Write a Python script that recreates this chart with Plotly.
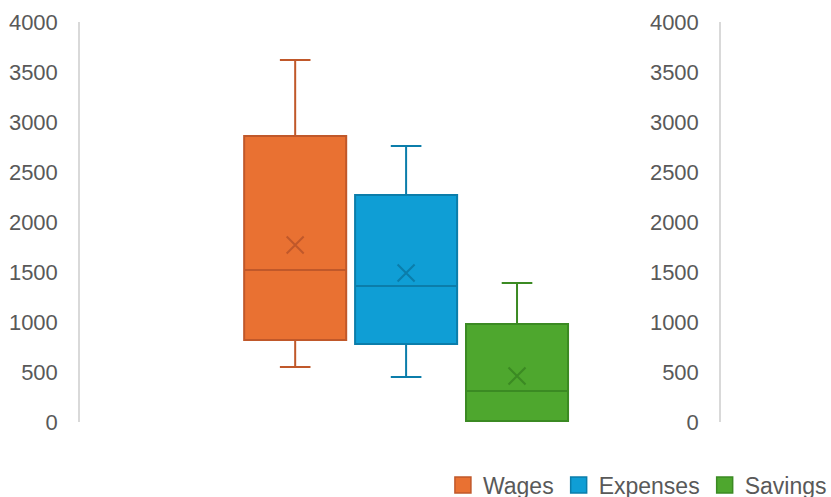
import plotly.graph_objects as go

# Data
series = ["Wages", "Expenses", "Savings"]
lower_whisker = [550, 450, 0]
q1 = [820, 780, 10]
median = [1520, 1360, 310]
q3 = [2860, 2270, 980]
upper_whisker = [3620, 2760, 1390]
means = [1770, 1490, 460]

fills = ["#E97132", "#0F9ED5", "#4EA72E"]
edges = ["#C0582A", "#0B7DAA", "#3B8A23"]

tick_vals = [0, 500, 1000, 1500, 2000, 2500, 3000, 3500, 4000]

fig = go.Figure()

for i, name in enumerate(series):
    fig.add_trace(go.Box(
        x=[name],
        q1=[q1[i]], median=[median[i]], q3=[q3[i]],
        lowerfence=[lower_whisker[i]], upperfence=[upper_whisker[i]],
        name=name,
        fillcolor=fills[i],
        line=dict(color=edges[i], width=2),
        whiskerwidth=0.3,
        boxpoints=False,
        showlegend=False,
        hoverinfo="skip",
    ))

# mean markers
fig.add_trace(go.Scatter(
    x=series, y=means, mode="markers",
    marker=dict(symbol="x-thin", size=17, line=dict(width=2, color=edges)),
    showlegend=False, hoverinfo="skip",
))

# legend entries with bigger square swatches
for i, name in enumerate(series):
    fig.add_trace(go.Scatter(
        x=[None], y=[None], mode="markers", name=name,
        marker=dict(symbol="square", size=19, color=fills[i],
                    line=dict(width=1.5, color=edges[i])),
    ))

axis_font = dict(family="Liberation Sans, Arial, sans-serif", size=22, color="#595959")
legend_font = dict(family="Liberation Sans, Arial, sans-serif", size=23, color="#595959")

fig.update_layout(
    width=831, height=497,
    margin=dict(l=80, r=111, t=22, b=75, autoexpand=False),
    paper_bgcolor="white", plot_bgcolor="white",
    boxmode="overlay", boxgap=0.08, boxgroupgap=0,
    showlegend=True,
    legend=dict(
        orientation="h", xref="container", yref="container",
        x=0.533, xanchor="left", y=0.024, yanchor="middle",
        font=legend_font, itemwidth=30, traceorder="normal",
    ),
    xaxis=dict(
        type="category", categoryorder="array", categoryarray=series,
        range=[-1.94, 3.83], showticklabels=False, showgrid=False,
        zeroline=False, showline=False, automargin=False,
    ),
    yaxis=dict(
        range=[0, 4000], tickvals=tick_vals, showgrid=False, zeroline=False,
        showline=True, linecolor="#D9D9D9", linewidth=1.5, automargin=False,
        tickfont=axis_font, ticks="", ticklabelstandoff=16,
    ),
    yaxis2=dict(
        range=[0, 4000], tickvals=tick_vals, overlaying="y", side="left",
        anchor="free", position=1, automargin=False,
        showgrid=False, zeroline=False, showline=True, linecolor="#D9D9D9",
        linewidth=1.5, tickfont=axis_font, ticks="", ticklabelstandoff=16,
    ),
)

# invisible helper so the right axis is drawn
fig.add_trace(go.Scatter(x=[series[0]], y=[0], yaxis="y2", mode="markers",
                         marker=dict(opacity=0), showlegend=False, hoverinfo="skip"))

fig.write_html("out.html", config={"displayModeBar": False},
               post_script="document.body.style.margin='0';")
